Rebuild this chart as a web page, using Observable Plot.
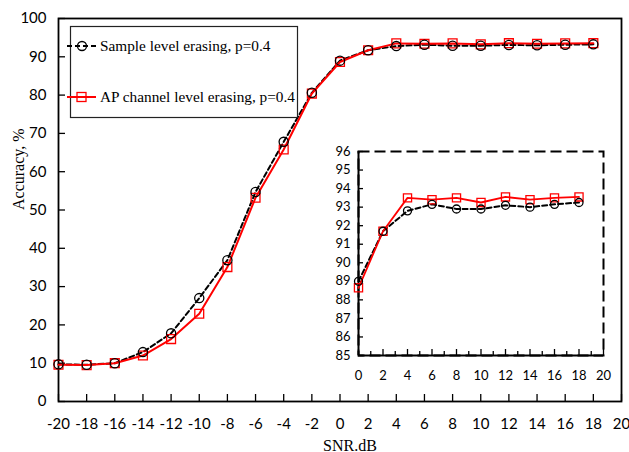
<!DOCTYPE html>
<html><head><meta charset="utf-8">
<script src="https://cdn.jsdelivr.net/npm/d3@7"></script>
<script src="https://cdn.jsdelivr.net/npm/@observablehq/plot@0.6"></script>
<style>
body{margin:0;background:#fff;}
#wrap{position:relative;width:629px;height:452px;overflow:hidden;}
#wrap > svg{position:absolute;}
</style></head><body><div id="wrap"></div>
<script>
// ---- data ----
const snr = [-20,-18,-16,-14,-12,-10,-8,-6,-4,-2,0,2,4,6,8,10,12,14,16,18];
const sampleAcc = [9.7,9.6,10.0,12.9,17.8,27.0,36.9,54.7,67.8,80.6,89.0,91.7,92.8,93.15,92.9,92.9,93.1,93.0,93.15,93.25];
const apAcc = [9.6,9.5,10.0,12.0,16.3,22.9,35.1,53.2,65.8,80.4,88.65,91.7,93.5,93.4,93.5,93.25,93.55,93.4,93.5,93.55];
const seriesNames = ["Sample level erasing, p=0.4", "AP channel level erasing, p=0.4"];
const xTicksMain = [-20,-18,-16,-14,-12,-10,-8,-6,-4,-2,0,2,4,6,8,10,12,14,16,18,20];
const yTicksMain = [0,10,20,30,40,50,60,70,80,90,100];
const xTicksInset = [0,2,4,6,8,10,12,14,16,18,20];
const xMinorInset = [1,3,5,7,9,11,13,15,17,19];
const yTicksInset = [85,86,87,88,89,90,91,92,93,94,95,96];
const xTitle = "SNR.dB";
const yTitle = "Accuracy, %";

const rows = snr.map((x, i) => ({x, sample: sampleAcc[i], ap: apAcc[i]}));
const insetRows = rows.filter(d => d.x >= 0);

const tickFont = "Lato, 'Open Sans', sans-serif";
const serif = "'Liberation Serif', 'DejaVu Serif', serif";
const RED = "#ff0000";

const wrap = document.getElementById("wrap");

const main = Plot.plot({
  width: 629, height: 452,
  marginLeft: 58, marginRight: 8, marginTop: 18, marginBottom: 51,
  x: {domain: [-20, 20]},
  y: {domain: [0, 100]},
  style: {background: "transparent", overflow: "visible", color: "#000"},
  marks: [
    Plot.axisX(xTicksMain, {tickSize: -7, tickPadding: 24, tickFormat: d => String(d), fontFamily: tickFont, fontSize: 15, label: null, stroke: "#000", strokeWidth: 1.3}),
    Plot.axisY(yTicksMain, {tickSize: -7, tickPadding: 19, tickFormat: d => String(d), fontFamily: tickFont, fontSize: 15, label: null, stroke: "#000", strokeWidth: 1.3}),
    Plot.frame({stroke: "#000", strokeWidth: 1.8}),
    Plot.line(rows, {x: "x", y: "sample", stroke: "#000", strokeWidth: 2, strokeDasharray: "5,3"}),
    Plot.line(rows, {x: "x", y: "ap", stroke: RED, strokeWidth: 2}),
    Plot.dot(rows, {x: "x", y: "ap", symbol: "square", r: 5, stroke: RED, strokeWidth: 1.3, fill: "none"}),
    Plot.dot(rows, {x: "x", y: "sample", r: 4.6, stroke: "#000", strokeWidth: 1.3, fill: "none"}),
    Plot.text([xTitle], {text: d => d, frameAnchor: "bottom", dy: 49, dx: 10, fontFamily: serif, fontSize: 16, fill: "#000"}),
    Plot.text([yTitle], {text: d => d, frameAnchor: "left", dx: -40, rotate: -90, fontFamily: serif, fontSize: 16, fill: "#000"})
  ]
});
main.style.left = "0px"; main.style.top = "0px";
wrap.appendChild(main);

const inset = Plot.plot({
  width: 290, height: 250,
  marginLeft: 38, marginRight: 7, marginTop: 11, marginBottom: 35,
  x: {domain: [0, 20]},
  y: {domain: [85, 96]},
  style: {background: "transparent", overflow: "visible", color: "#000"},
  marks: [
    Plot.frame({stroke: "#000", strokeWidth: 2, strokeDasharray: "11,5"}),
    Plot.ruleX([0], {stroke: "#000", strokeWidth: 2}),
    Plot.ruleY([85], {stroke: "#000", strokeWidth: 2}),
    Plot.axisX(xTicksInset, {tickSize: -6, tickPadding: 21, tickFormat: d => String(d), fontFamily: tickFont, fontSize: 13, label: null, stroke: "#000", strokeWidth: 1.3}),
    Plot.axisX(xMinorInset, {tickSize: -4, tickFormat: () => "", label: null, stroke: "#000", strokeWidth: 1.3}),
    Plot.axisY(yTicksInset, {tickSize: -5, tickPadding: 13, tickFormat: d => String(d), fontFamily: tickFont, fontSize: 13, label: null, stroke: "#000", strokeWidth: 1.3}),
    Plot.line(insetRows, {x: "x", y: "sample", stroke: "#000", strokeWidth: 2, strokeDasharray: "5,3"}),
    Plot.line(insetRows, {x: "x", y: "ap", stroke: RED, strokeWidth: 1.8}),
    Plot.dot(insetRows, {x: "x", y: "ap", symbol: "square", r: 4.6, stroke: RED, strokeWidth: 1.3, fill: "none"}),
    Plot.dot(insetRows, {x: "x", y: "sample", r: 4, stroke: "#000", strokeWidth: 1.3, fill: "none"})
  ]
});
inset.style.left = "320px"; inset.style.top = "140px";
wrap.appendChild(inset);

// legend overlay
const NS = "http://www.w3.org/2000/svg";
const leg = document.createElementNS(NS, "svg");
leg.setAttribute("width", 629); leg.setAttribute("height", 452);
leg.style.left = "0px"; leg.style.top = "0px"; leg.style.pointerEvents = "none";
function el(tag, attrs, parent) {
  const e = document.createElementNS(NS, tag);
  for (const k in attrs) e.setAttribute(k, attrs[k]);
  (parent || leg).appendChild(e); return e;
}
el("rect", {x: 70.5, y: 26.5, width: 227, height: 91, fill: "#fff", stroke: "#222", "stroke-width": 1.2});
el("line", {x1: 67, y1: 46, x2: 96, y2: 46, stroke: "#000", "stroke-width": 2, "stroke-dasharray": "5,3"});
el("circle", {cx: 82, cy: 46, r: 4.5, fill: "none", stroke: "#000", "stroke-width": 1.3});
el("line", {x1: 67, y1: 97, x2: 96, y2: 97, stroke: RED, "stroke-width": 2});
el("rect", {x: 77, y: 92.5, width: 9, height: 9, fill: "none", stroke: RED, "stroke-width": 1.3});
const t1 = el("text", {x: 100, y: 51, "font-family": serif, "font-size": 15.3, fill: "#000"}); t1.textContent = seriesNames[0];
const t2 = el("text", {x: 100, y: 102, "font-family": serif, "font-size": 15.3, fill: "#000"}); t2.textContent = seriesNames[1];
wrap.appendChild(leg);
</script>
</body></html>
